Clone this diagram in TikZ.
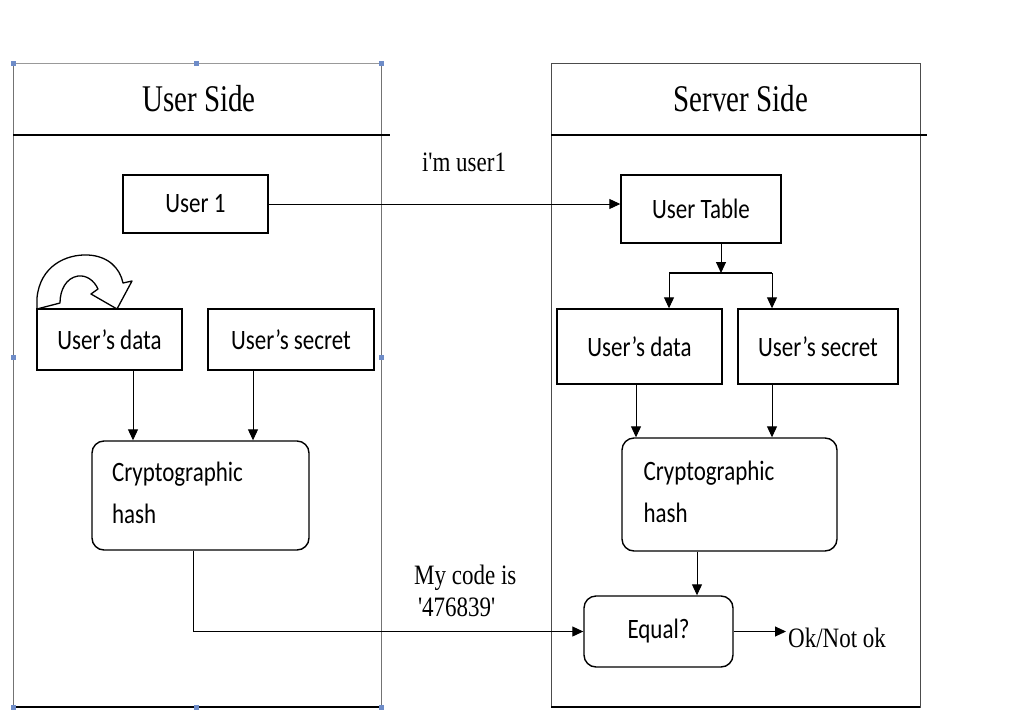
\documentclass[tikz,border=0pt]{standalone}
\usepackage{fontspec}
\usepackage{graphicx}
\setmainfont{Liberation Serif}
\newfontfamily\boxfnt{Carlito}
\usetikzlibrary{arrows.meta}
\newcommand\vs[1]{\scalebox{1}[1.22]{#1}}
\newcommand\vt[1]{\scalebox{1}[1.3]{#1}}
\begin{document}
\begin{tikzpicture}[x=1pt,y=-1pt,
  lane/.style={line width=1pt},
  header/.style={line width=2.6pt},
  box/.style={draw, line width=1.4pt, inner sep=0pt, font={\boxfnt\fontsize{23}{28}\selectfont}},
  rbox/.style={box, rounded corners=12pt},
  arr/.style={-{Triangle[length=11pt,width=10pt]}, line width=1pt},
  title/.style={font={\fontsize{29}{34}\selectfont}, inner sep=0pt},
  lbl/.style={font={\fontsize{23}{28}\selectfont}, inner sep=0pt},
  handle/.style={fill={rgb,255:red,110;green,140;blue,200}}
]
\useasboundingbox (0,0) rectangle (1016,709);
\fill[white] (0,0) rectangle (1016,709);

% lanes
\draw[lane, draw=black!55] (13,63) -- (13,707);
\draw[lane, draw=black!55] (381,63) -- (381,707);
\draw[lane, draw=black!40] (13,63) -- (381,63);
\draw[line width=1.6pt] (13,707) -- (381,707);
\draw[header] (13,135) -- (390,135);
\draw[lane, draw=black!70] (551,63) rectangle (920,707);
\draw[line width=1.6pt] (551,707) -- (920,707);
\draw[header] (551,135) -- (927,135);

% selection handles
\foreach \p in {(13,63),(196,63),(381,63),(13,357),(381,357),(13,707),(196,707),(381,707)}
  \fill[handle] \p ++(-2.5,-2.5) rectangle ++(5,5);

\node[title] (usertitle) at (199,99) {\vt{User Side}};
\node[title] (servertitle) at (741,99) {\vt{Server Side}};

% user side
\node[box, minimum width=145pt, minimum height=58pt] (user1) at (195.5,204) {\vs{User 1}};
\node[box, minimum width=145pt, minimum height=61pt] (ldata) at (109.5,339.5) {\vs{User’s data}};
\node[box, minimum width=166pt, minimum height=61pt] (lsecret) at (291,339.5) {\vs{User’s secret}};
\node[rbox, minimum width=217pt, minimum height=109pt, text width=177pt, align=left] (lhash) at (200.5,495.5)
  {\vs{\begin{tabular}{@{}l@{}}Cryptographic\\[6pt]hash\end{tabular}}};

% loop arrow
\draw[line width=1.3pt, fill=white, line join=round]
  (37,309) -- (37,298) .. controls (40,266) and (66,254) .. (88,255)
  .. controls (108,256) and (120,268) .. (123,283) -- (132,281) -- (117,309)
  -- (91,294) -- (98,289) .. controls (94,280) and (86,275) .. (78,276)
  .. controls (66,278) and (60,290) .. (60,303) -- cycle;

% server side
\node[box, minimum width=160pt, minimum height=68pt] (utable) at (701,209) {\vs{User Table}};
\node[box, minimum width=165pt, minimum height=75pt] (rdata) at (639.5,346.5) {\vs{User’s data}};
\node[box, minimum width=160pt, minimum height=75pt] (rsecret) at (818,346.5) {\vs{User’s secret}};
\node[rbox, minimum width=215pt, minimum height=113pt, text width=172pt, align=left] (rhash) at (729.5,494.5)
  {\vs{\begin{tabular}{@{}l@{}}Cryptographic\\[6pt]hash\end{tabular}}};
\node[rbox, minimum width=149pt, minimum height=71pt] (equal) at (658.5,631.5) {\vs{Equal?}};

% coordinates
\coordinate (xl1) at (133,0);
\coordinate (xl2) at (253,0);
\coordinate (xl3) at (193,0);
\coordinate (br) at (721,273);
\coordinate (brL) at (669,273);
\coordinate (brR) at (772,273);
\coordinate (xr1) at (636,0);
\coordinate (xr2) at (697,0);
\coordinate (okend) at (786,631.5);

% connectors
\draw[arr] (user1.east) -- (user1.east -| utable.west);
\node[lbl] (imuser) at (464,162) {\vs{i\textquotesingle m user1}};

\draw[arr] (ldata.south -| xl1) -- (lhash.north -| xl1);
\draw[arr] (lsecret.south -| xl2) -- (lhash.north -| xl2);
\draw[arr] (lhash.south -| xl3) |- (equal.west);
\node[lbl, align=left, anchor=west] (code) at (414,594) {\vs{\begin{tabular}{@{}l@{}}My code is\\[-2pt]\,\textquotesingle 476839\textquotesingle\end{tabular}}};

\draw[arr] (utable.south -| br) -- (br);
\draw[line width=2pt] (brL) -- (brR);
\draw[arr] (brL) -- (rdata.north -| brL);
\draw[arr] (brR) -- (rsecret.north -| brR);
\draw[arr] (rdata.south -| xr1) -- (rhash.north -| xr1);
\draw[arr] (rsecret.south -| brR) -- (rhash.north -| brR);
\draw[arr] (rhash.south -| xr2) -- (equal.north -| xr2);
\draw[arr] (equal.east) -- (okend);
\node[lbl, anchor=west] (ok) at (788,638) {\vs{Ok/Not ok}};
\end{tikzpicture}
\end{document}
